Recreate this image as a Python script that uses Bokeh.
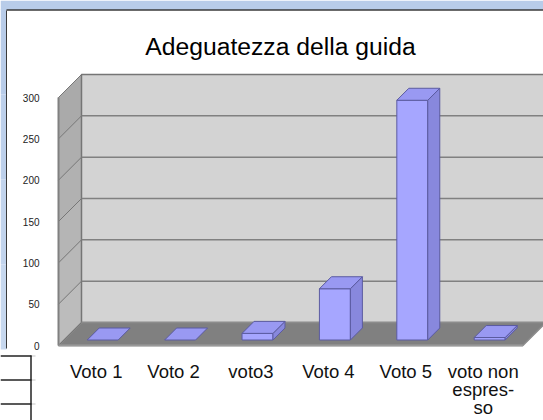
from bokeh.plotting import figure
from bokeh.embed import file_html
from bokeh.resources import INLINE
from bokeh.core.properties import value
from bokeh.models import Range1d

title = "Adeguatezza della guida"
categories = [["Voto 1"], ["Voto 2"], ["voto3"], ["Voto 4"], ["Voto 5"], ["voto non", "espres-", "so"]]
votes = [0, 0, 8, 62, 290, 3]
ticks = [0, 50, 100, 150, 200, 250, 300]

W, H = 543, 420
X0, Y0 = 58, 345          # front-left corner of the floor, in pixels
CAT_PX = 77.4
VAL_PX = 248 / 300
WALL = 23                 # depth of the chart box
BAR_OFF, BAR_D = 5.5, 12  # bar offset from front, bar depth
BAR_W = 0.4
FONT = value("Liberation Sans")

def dx(px): return px / CAT_PX
def dy(px): return px / VAL_PX
def px_x(px): return (px - X0) / CAT_PX
def px_y(py): return (Y0 - py) / VAL_PX

p = figure(width=W, height=H, output_backend="svg", toolbar_location=None,
           x_range=Range1d(px_x(0), px_x(W)), y_range=Range1d(px_y(H), px_y(0)),
           min_border=0)
p.axis.visible = False
p.grid.visible = False
p.outline_line_color = None
p.background_fill_color = "white"
p.border_fill_color = "white"

# page furniture
p.quad(left=px_x(0), right=px_x(W), top=px_y(0), bottom=px_y(9.5), fill_color="#b8cce9", line_color=None)
strip = ["#b8cce9", "#bdd0eb", "#c2d4ed", "#c7d8ef"]
for i, c in enumerate(strip):
    p.quad(left=px_x(0), right=px_x(6), top=px_y(9 + i * 85), bottom=px_y(9 + (i + 1) * 85), fill_color=c, line_color=None)
p.line([px_x(6), px_x(6)], [px_y(348), px_y(10)], line_color="#3a3a3a", line_width=1)
p.line([px_x(6), px_x(W)], [px_y(9.5), px_y(9.5)], line_color="#3a3a3a", line_width=1.5)

# remnant of a table at lower left
for yy in (355.5, 379.5, 403.5):
    p.line([px_x(31), px_x(35)], [px_y(yy), px_y(yy)], line_color="#d8d8d8", line_width=1.5)
    p.line([px_x(0), px_x(31)], [px_y(yy), px_y(yy)], line_color="#222222", line_width=1.5)
p.line([px_x(30.5), px_x(30.5)], [px_y(355), px_y(420)], line_color="#222222", line_width=1.5)

# title
p.text([px_x(280)], [px_y(46)], text=[title], text_font=FONT, text_font_size="24.7px",
       text_align="center", text_baseline="middle", text_color="#000000")

# chart box
n = len(categories)
top = ticks[-1]
wx, wy = dx(WALL), dy(WALL)
p.patch([0, wx, wx, 0], [0, wy, top + wy, top], fill_color="#aeaeae", line_color="#808080", line_width=1)
for a, b, c in zip(ticks[:-1], ticks[1:], ["#bcbcbc", "#b8b8b8", "#b5b5b5", "#b1b1b1", "#aeaeae", "#aaaaaa"]):
    p.patch([0, wx, wx, 0], [a, a + wy, b + wy, b], fill_color=c, line_color=None)
p.patch([wx, n + wx, n + wx, wx], [wy, wy, top + wy, top + wy], fill_color="#d3d3d3", line_color="#757575", line_width=1.5)
p.patch([0, wx, n + wx, n], [0, wy, wy, 0], fill_color="#808080", line_color="#8c8c8c", line_width=1.5)
for t in ticks[1:-1]:
    p.line([wx, n + wx], [t + wy, t + wy], line_color="#808080", line_width=1.5)
for t in ticks:
    p.line([0, wx], [t, t + wy], line_color="#777777", line_width=1)
p.line([0, 0], [0, top], line_color="#808080", line_width=2)
p.line([0, n], [0, 0], line_color="#999999", line_width=2)

# bars
ox, oy = dx(BAR_OFF), dy(BAR_OFF)
bx, by = dx(BAR_D), dy(BAR_D)
edge = "#5b5ba0"
for i, v in enumerate(votes):
    l = i + 0.5 - BAR_W / 2 + ox
    r = l + BAR_W
    b = oy
    t = oy + v
    if v > 0:
        p.patch([l, r, r, l], [b, b, t, t], fill_color="#a6a6ff", line_color=edge, line_width=1)
        p.patch([r, r + bx, r + bx, r], [b, b + by, t + by, t], fill_color="#8888dd", line_color=edge, line_width=1)
    p.patch([l, r, r + bx, l + bx], [t, t, t + by, t + by], fill_color="#9999f2", line_color=edge, line_width=1)

# value labels
p.text([-dx(19)] * len(ticks), [t for t in ticks], text=[str(t) for t in ticks],
       text_font=FONT, text_font_size="10px", text_align="right", text_baseline="middle", text_color="#222222")

# category labels
for i, lines in enumerate(categories):
    for j, s in enumerate(lines):
        p.text([i + 0.5 - dx(1)], [-dy(26 + 18 * j)], text=[s], text_font=FONT, text_font_size="18.5px",
               text_align="center", text_baseline="middle", text_color="#111111")

open("out.html", "w").write(file_html(p, INLINE))
